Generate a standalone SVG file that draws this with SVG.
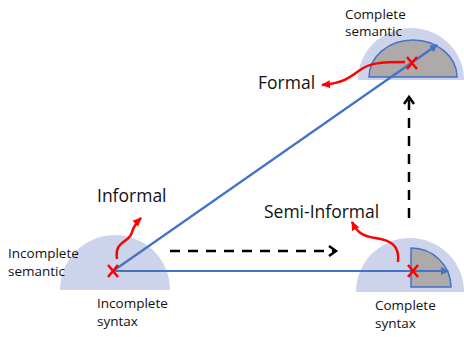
<svg xmlns="http://www.w3.org/2000/svg" width="464" height="337" viewBox="0 0 464 337">
<style>
.bg{fill:#cdd3ea}
.gray{fill:#aeaaaa;stroke:#4472c4;stroke-width:1.5}
.blue{stroke:#4472c4;stroke-width:2.2;fill:none}
.red{stroke:#ff0000;stroke-width:2.5;fill:none}
.dash{stroke:#000;stroke-width:2.5;fill:none;stroke-dasharray:10 8}
.t{font-family:"Open Sans","Liberation Sans",sans-serif;fill:#111}
.s{font-size:13.5px}
.l{font-size:17.5px}
</style>
<defs>
<marker id="ab" markerWidth="8" markerHeight="8" refX="7" refY="4" orient="auto" markerUnits="userSpaceOnUse"><path d="M0,0 L8,4 L0,8 Z" fill="#4472c4"/></marker>
<marker id="ar" markerWidth="10" markerHeight="10" refX="8" refY="5" orient="auto" markerUnits="userSpaceOnUse"><path d="M0,1 L9,5 L0,9 Z" fill="#ff0000"/></marker>
<marker id="ak" markerWidth="12" markerHeight="12" refX="9" refY="6" orient="auto" markerUnits="userSpaceOnUse"><path d="M2,1 L9,6 L2,11" fill="none" stroke="#000" stroke-width="2.5"/></marker>
</defs>
<g id="incomplete">
<path class="bg" d="M60,290 A55,55 0 0 1 170,290 Z"/>
<text class="t s" x="8" y="258">Incomplete</text>
<text class="t s" x="8" y="276">semantic</text>
<text class="t s" x="97" y="308">Incomplete</text>
<text class="t s" x="97" y="326">syntax</text>
</g>
<g id="complete-syntax">
<path class="bg" d="M356,292 A54,54 0 0 1 464,292 Z"/>
<path class="gray" d="M411,287 L411,248 A40,39 0 0 1 451,287 Z"/>
<text class="t s" x="375" y="310">Complete</text>
<text class="t s" x="375" y="328">syntax</text>
</g>
<g id="complete-semantic">
<path class="bg" d="M358,80 A53,52 0 0 1 464,80 Z"/>
<path class="gray" d="M369,77 A44,37 0 0 1 457,77 Z"/>
<text class="t s" x="345" y="19">Complete</text>
<text class="t s" x="345" y="36">semantic</text>
</g>
<g id="labels">
<text class="t l" x="97" y="202">Informal</text>
<text class="t l" x="264" y="218">Semi-Informal</text>
<text class="t l" x="258" y="89">Formal</text>
</g>
<g id="connectors">
<line class="blue" x1="113" y1="271" x2="448" y2="271" marker-end="url(#ab)"/>
<line class="blue" x1="113" y1="271" x2="437" y2="45" marker-end="url(#ab)"/>
<line class="dash" x1="170" y1="251" x2="336" y2="251" marker-end="url(#ak)"/>
<line class="dash" x1="409" y1="218" x2="409" y2="97" marker-end="url(#ak)"/>
<path class="red" d="M117,259 C114,240 130,243 132,232 C134,226 137,222 141,218" marker-end="url(#ar)"/>
<path class="red" d="M398,262 C400,245 390,240 375,238 C362,236 357,232 352,222" marker-end="url(#ar)"/>
<path class="red" d="M405,62 C380,62 370,63 360,70 C348,79 342,83 322,85" marker-end="url(#ar)"/>
<path class="red" d="M108,265 L118,277 M118,265 L108,277"/>
<path class="red" d="M408,265 L418,277 M418,265 L408,277"/>
<path class="red" d="M407,57 L417,69 M417,57 L407,69"/>
</g>
</svg>
